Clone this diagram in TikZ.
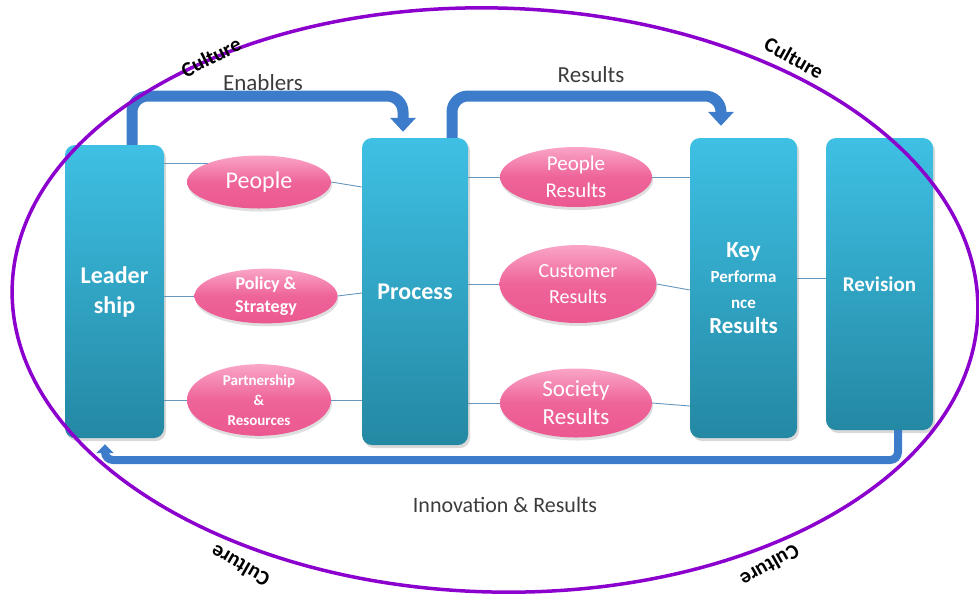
\documentclass[tikz,border=0pt]{standalone}
\usepackage{fontspec}
\setmainfont{Carlito}
\usetikzlibrary{arrows.meta,shadows,calc,shapes.geometric}
\definecolor{tealtop}{RGB}{62,192,228}
\definecolor{tealbot}{RGB}{36,136,163}
\definecolor{pinktop}{RGB}{250,165,200}
\definecolor{pinkbot}{RGB}{236,88,145}
\definecolor{arrowblue}{RGB}{60,124,202}
\definecolor{linkblue}{RGB}{100,150,190}
\definecolor{culturepurple}{RGB}{140,0,205}
\definecolor{labelgray}{RGB}{60,60,60}
\begin{document}
\begin{tikzpicture}[x=1pt,y=-1pt,
  pillar/.style={rectangle, rounded corners=10pt, top color=tealtop, bottom color=tealbot,
    text=white, align=center, inner sep=0pt,
    drop shadow={opacity=0.3, shadow xshift=2pt, shadow yshift=-3pt}},
  oval/.style={ellipse, top color=pinktop, bottom color=pinkbot, middle color=pinkbot!85!pinktop,
    text=white, align=center, inner sep=0pt,
    drop shadow={opacity=0.25, shadow xshift=1pt, shadow yshift=-3pt}},
  link/.style={draw=linkblue, line width=0.9pt},
  bigarrow/.style={draw=arrowblue, line width=11pt, rounded corners=16pt,
    -{Triangle[width=25pt,length=14pt]}},
  smallarrow/.style={draw=arrowblue, line width=8pt, rounded corners=8pt,
    -{Triangle[width=17pt,length=9pt]}},
  lbl/.style={text=labelgray, font=\fontsize{23}{27}\selectfont, inner sep=0pt},
  cult/.style={text=black, font=\fontsize{21}{25}\selectfont\bfseries, inner sep=0pt}
]
\useasboundingbox (0,0) rectangle (979,598);

% coordinates of arrow bends
\coordinate (enA) at (132,96);
\coordinate (enB) at (403,96);
\coordinate (reA) at (452,96);
\coordinate (reB) at (721,96);
\coordinate (inA) at (898,460);
\coordinate (inB) at (105,460);

% pillars
\node[pillar, minimum width=99pt, minimum height=293pt, font=\fontsize{24}{30}\selectfont\bfseries]
  (lead) at (114.5,291.5) {Leader\\ship};
\node[pillar, minimum width=106pt, minimum height=307pt, font=\fontsize{24}{29}\selectfont\bfseries]
  (proc) at (415,291.5) {Process};
\node[pillar, minimum width=107pt, minimum height=300pt, font=\fontsize{23}{25.5}\selectfont\bfseries]
  (kpr) at (743.5,288) {Key\\{\fontsize{17}{20}\selectfont Performa}\\{\fontsize{17}{20}\selectfont nce}\\Results};
\node[pillar, minimum width=107pt, minimum height=292pt, font=\fontsize{21}{25}\selectfont\bfseries]
  (rev) at (879.5,284) {Revision};

% ovals
\node[oval, minimum width=144pt, minimum height=53pt, font=\fontsize{24}{28}\selectfont]
  (ppl) at (259,182) {People};
\node[oval, minimum width=143pt, minimum height=53pt, font=\fontsize{18}{23}\selectfont\bfseries]
  (pol) at (266,296) {Policy \&\\Strategy};
\node[oval, minimum width=144pt, minimum height=60pt, font=\fontsize{15}{20}\selectfont\bfseries]
  (par) at (259,400) {Partnership\\\&\\Resources};
\node[oval, minimum width=152pt, minimum height=60pt, font=\fontsize{21}{27}\selectfont]
  (pr) at (576,177) {People\\Results};
\node[oval, minimum width=157pt, minimum height=78pt, font=\fontsize{20}{26}\selectfont]
  (cr) at (578,284) {Customer\\Results};
\node[oval, minimum width=152pt, minimum height=69pt, font=\fontsize{23}{28}\selectfont]
  (sr) at (576,403) {Society\\Results};

% thin links
\draw[link] (lead.east |- ppl.160) -- (ppl.160);
\draw[link] (ppl.east) -- ([yshift=-5pt]proc.west |- ppl.east);
\draw[link] (lead.east |- pol.west) -- (pol.west);
\draw[link] (pol.east) -- ([yshift=3pt]proc.west |- pol.east);
\draw[link] (lead.east |- par.west) -- (par.west);
\draw[link] (par.east) -- (proc.west |- par.east);
\draw[link] (proc.east |- pr.west) -- (pr.west);
\draw[link] (proc.east |- cr.west) -- (cr.west);
\draw[link] (proc.east |- sr.west) -- (sr.west);
\draw[link] (pr.east) -- (kpr.west |- pr.east);
\draw[link] (cr.east) -- ([yshift=-6pt]kpr.west |- cr.east);
\draw[link] (sr.east) -- ([yshift=-3pt]kpr.west |- sr.east);
\draw[link] ([yshift=10pt]kpr.east) -- ([yshift=10pt]kpr.east -| rev.west);

% big arrows
\draw[bigarrow] (lead.north -| enA) -- (enA) -- (enB) -- ([yshift=6pt]proc.north -| enB);
\draw[bigarrow] (proc.north -| reA) -- (reA) -- (reB) -- ([yshift=12pt]kpr.north -| reB);
\draw[smallarrow] (rev.south -| inA) -- (inA) -- (inB) -- ([yshift=-6pt]lead.south -| inB);

% labels
\node[lbl] (enab) at (263,83) {Enablers};
\node[lbl] (resl) at (591,75) {Results};
\node[lbl, font=\fontsize{22}{26}\selectfont] (inno) at (505,505) {Innovation \& Results};

% culture ellipse
\draw[culturepurple, line width=3.5pt, rotate around={-1.5:(495,300)}]
  (495,300) ellipse [x radius=483pt, y radius=292pt];

% culture texts
\node[cult, rotate=27] (c1) at (211,57) {Culture};
\node[cult, rotate=-29] (c2) at (794,58) {Culture};
\node[cult, rotate=150] (c3) at (240,566) {Culture};
\node[cult, rotate=210] (c4) at (770,566) {Culture};
\end{tikzpicture}
\end{document}
